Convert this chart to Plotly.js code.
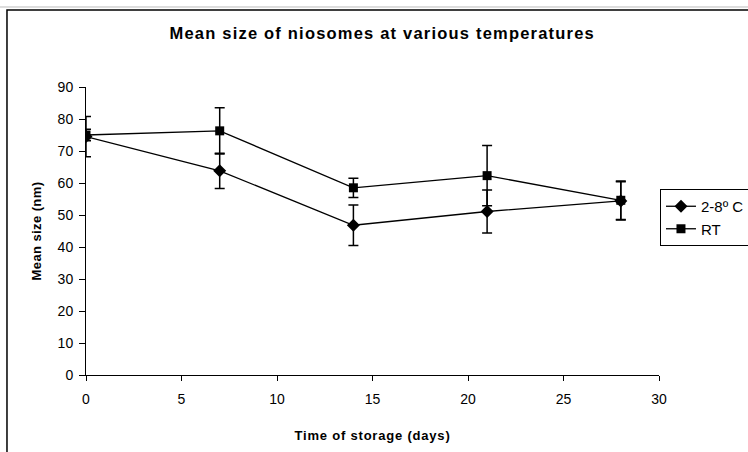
<!DOCTYPE html>
<html>
<head>
<meta charset="utf-8">
<script src="https://cdn.plot.ly/plotly-3.0.1.min.js"></script>
<style>
html,body{margin:0;padding:0;background:#fff;}
#chart{width:748px;height:452px;}
#chart .gtitle{letter-spacing:1.2px;}
#chart .xtitle{letter-spacing:0.8px;}
#chart .ytitle{letter-spacing:0.4px;}
</style>
</head>
<body>
<div id="chart"></div>
<script>
const days = [0, 7, 14, 21, 28];
const cold = [74.5, 63.8, 46.8, 51.1, 54.4];
const coldErr = [6.3, 5.5, 6.3, 6.7, 6.0];
const rt = [75.0, 76.3, 58.5, 62.3, 54.6];
const rtErr = [1.8, 7.2, 3.0, 9.4, 6.0];
const seriesNames = ["2-8º C", "RT"];

const errStyle = {type: 'data', visible: true, color: '#000', thickness: 1.5, width: 5};

const traces = [
  {x: days, y: cold, name: seriesNames[0], type: 'scatter', mode: 'lines+markers',
   line: {color: '#000', width: 1.3},
   marker: {symbol: 'diamond', size: 10, color: '#000'},
   error_y: Object.assign({array: coldErr}, errStyle)},
  {x: days, y: rt, name: seriesNames[1], type: 'scatter', mode: 'lines+markers',
   line: {color: '#000', width: 1.3},
   marker: {symbol: 'square', size: 9, color: '#000'},
   error_y: Object.assign({array: rtErr}, errStyle)}
];

const font = {family: 'Liberation Sans, Arial, sans-serif', color: '#000'};

const layout = {
  width: 748, height: 452,
  margin: {l: 86, r: 89, t: 87, b: 77, pad: 0, autoexpand: false},
  paper_bgcolor: '#fff', plot_bgcolor: '#fff',
  font: Object.assign({size: 13}, font),
  showlegend: true,
  title: {text: '<b>Mean size of niosomes at various temperatures</b>',
          font: Object.assign({size: 16.5}, font), x: 0.511, xanchor: 'center', y: 0.927, yanchor: 'middle'},
  xaxis: {range: [0, 30], dtick: 5, tick0: 0, showgrid: false, zeroline: false,
          showline: true, linecolor: '#000', linewidth: 1,
          ticks: 'outside', ticklen: 5, tickcolor: '#000', ticklabelstandoff: 6,
          tickfont: Object.assign({size: 14}, font),
          title: {text: '<b>Time of storage (days)</b>', font: Object.assign({size: 13}, font), standoff: 25}},
  yaxis: {range: [0, 90], dtick: 10, tick0: 0, showgrid: false, zeroline: false,
          showline: true, linecolor: '#000', linewidth: 1,
          ticks: 'outside', ticklen: 6, tickcolor: '#000', ticklabelstandoff: 3,
          tickfont: Object.assign({size: 14}, font),
          title: {text: '<b>Mean size (nm)</b>', font: Object.assign({size: 13}, font), standoff: 13}},
  legend: {x: 1.0017, xanchor: 'left', y: 0.6458, yanchor: 'top',
           bgcolor: '#fff', bordercolor: '#000', borderwidth: 1,
           font: Object.assign({size: 15}, font), tracegroupgap: 0},
  shapes: [
    {type: 'rect', xref: 'paper', yref: 'paper', x0: -0.1379, x1: 1.3, y0: -0.4, y1: 1.2674,
     line: {color: '#000', width: 1.5}, fillcolor: 'rgba(0,0,0,0)', layer: 'below'},
    {type: 'line', xref: 'paper', yref: 'paper', x0: -0.2, x1: 1.2, y0: 1.2778, y1: 1.2778,
     line: {color: '#bbb', width: 1}, layer: 'below'}
  ]
};

Plotly.newPlot('chart', traces, layout, {displayModeBar: false, staticPlot: true});
</script>
</body>
</html>
